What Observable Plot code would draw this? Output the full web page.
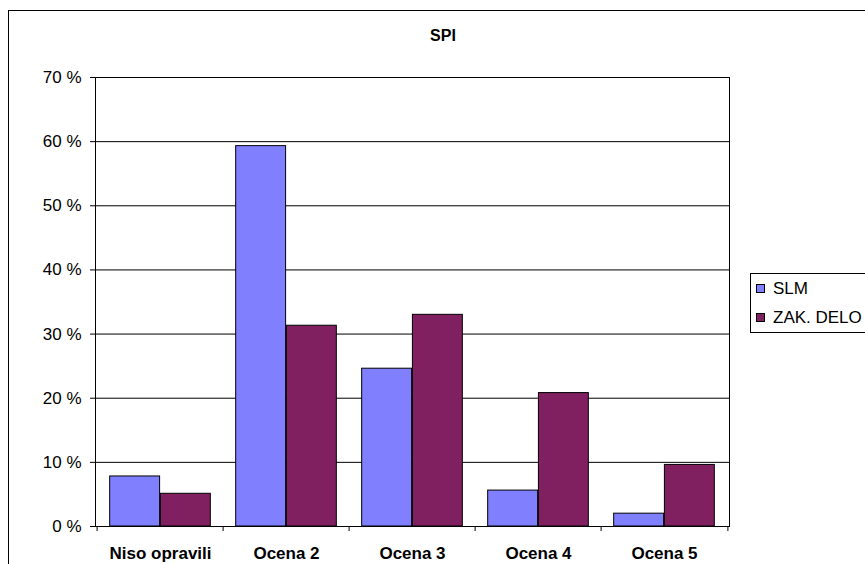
<!DOCTYPE html>
<html><head><meta charset="utf-8">
<script src="https://cdn.jsdelivr.net/npm/d3@7"></script>
<script src="https://cdn.jsdelivr.net/npm/@observablehq/plot@0.6"></script>
<style>
html,body{margin:0;padding:0;background:#fff;overflow:hidden;width:865px;height:564px}
#wrap{position:relative;width:865px;height:564px;font-family:Arial,"Liberation Sans",sans-serif;color:#000}
#border{position:absolute;left:8px;top:10px;width:900px;height:600px;border:1px solid #000;box-sizing:border-box}
#title{position:absolute;left:0;width:886px;top:26px;text-align:center;font-weight:bold;font-size:16px;line-height:20px}
#legend{position:absolute;left:750px;top:273px;width:115px;height:60px;border:1px solid #000;border-right:none;box-sizing:border-box;font-size:17px;background:#fff}
.item{position:absolute;left:5px;height:20px;line-height:20px;white-space:nowrap}
.sw{display:inline-block;width:7px;height:7px;border:1px solid #000;margin-right:8px;vertical-align:1px}
#chart{position:absolute;left:0;top:0}
</style>
</head><body>
<div id="wrap">
  <div id="border"></div>
  <div id="chart"></div>
  <div id="title"></div>
  <div id="legend"></div>
</div>
<script>
const titleText = "SPI";
const categories = ["Niso opravili", "Ocena 2", "Ocena 3", "Ocena 4", "Ocena 5"];
const seriesNames = ["SLM", "ZAK. DELO"];
const slm = [7.8, 59.3, 24.6, 5.6, 2.0];
const zak = [5.1, 31.3, 33.0, 20.8, 9.6];
const seriesColors = ["#8080FF", "#802060"];
const yTicks = [0, 10, 20, 30, 40, 50, 60, 70];

const data = categories.flatMap((c, i) => [
  {category: c, series: seriesNames[0], value: slm[i]},
  {category: c, series: seriesNames[1], value: zak[i]}
]);

const W = 865, H = 564, mL = 95, mR = 136, mT = 77, mB = 38;
const band = (W - mL - mR) / categories.length;
const outer = band * 0.1;
const half = (band - 2 * outer) / 2;

const chart = Plot.plot({
  width: W, height: H,
  marginLeft: mL, marginRight: mR, marginTop: mT, marginBottom: mB,
  style: {fontFamily: "Arial, 'Liberation Sans', sans-serif", fontSize: "17px", background: "transparent", color: "#000"},
  x: {domain: categories, padding: 0, label: null, axis: null},
  y: {domain: [0, 70], label: null, axis: null},
  marks: [
    Plot.gridY(yTicks, {stroke: "#000", strokeOpacity: 1}),
    Plot.barY(data.filter(d => d.series === seriesNames[0]), {
      x: "category", y: "value", fill: seriesColors[0], stroke: "#000", strokeWidth: 1,
      insetLeft: outer, insetRight: outer + half
    }),
    Plot.barY(data.filter(d => d.series === seriesNames[1]), {
      x: "category", y: "value", fill: seriesColors[1], stroke: "#000", strokeWidth: 1,
      insetLeft: outer + half, insetRight: outer
    }),
    Plot.frame({stroke: "#000"}),
    Plot.axisY(yTicks, {tickFormat: d => d + " %", tickSize: 5, tickPadding: 9, fontSize: 17, stroke: "#000"}),
    Plot.axisX({tickSize: 0, tickPadding: 20, fontSize: 17, fontWeight: "bold"}),
    Plot.ruleX(categories, {x: d => d, dx: -band / 2, y1: 0, y2: 0, insetBottom: -5, stroke: "#000"}),
    Plot.ruleX(categories.slice(-1), {x: d => d, dx: band / 2, y1: 0, y2: 0, insetBottom: -5, stroke: "#000"})
  ]
});
document.getElementById("chart").appendChild(chart);
document.getElementById("title").textContent = titleText;

const legend = document.getElementById("legend");
seriesNames.forEach((name, i) => {
  const item = document.createElement("div");
  item.className = "item";
  item.style.top = (5 + i * 29) + "px";
  const sw = document.createElement("span");
  sw.className = "sw";
  sw.style.background = seriesColors[i];
  item.appendChild(sw);
  item.appendChild(document.createTextNode(name));
  legend.appendChild(item);
});
</script>
</body></html>
